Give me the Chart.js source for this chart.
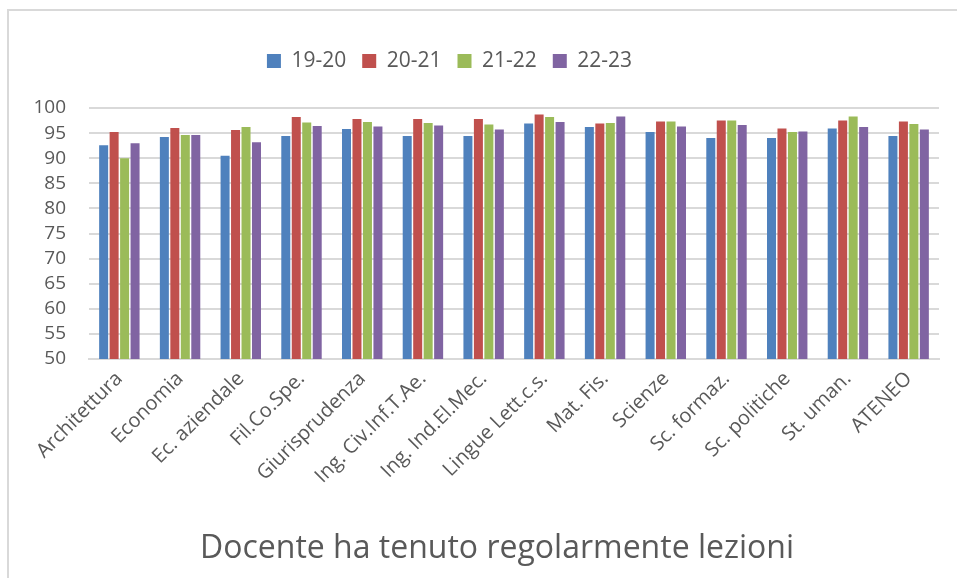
<!DOCTYPE html>
<html>
<head>
<meta charset="utf-8">
<script src="https://cdn.jsdelivr.net/npm/chart.js@4.4.0/dist/chart.umd.min.js"></script>
<style>
  html, body { margin: 0; padding: 0; background: #ffffff; }
  #wrap { position: relative; width: 957px; height: 578px; }
  canvas { display: block; }
</style>
</head>
<body>
<div id="wrap"><canvas id="c" width="957" height="578"></canvas></div>
<script>
const categories = ["Architettura", "Economia", "Ec. aziendale", "Fil.Co.Spe.", "Giurisprudenza",
  "Ing. Civ.Inf.T.Ae.", "Ing. Ind.El.Mec.", "Lingue Lett.c.s.", "Mat. Fis.", "Scienze",
  "Sc. formaz.", "Sc. politiche", "St. uman.", "ATENEO"];
const seriesNames = ["19-20", "20-21", "21-22", "22-23"];
const s1920 = [92.6, 94.2, 90.5, 94.4, 95.8, 94.4, 94.4, 96.9, 96.2, 95.2, 94.0, 94.0, 95.9, 94.4];
const s2021 = [95.2, 96.0, 95.6, 98.2, 97.8, 97.8, 97.8, 98.7, 96.9, 97.3, 97.5, 95.9, 97.5, 97.3];
const s2122 = [90.0, 94.6, 96.2, 97.1, 97.2, 97.0, 96.7, 98.2, 97.0, 97.3, 97.5, 95.2, 98.3, 96.8];
const s2223 = [93.0, 94.6, 93.2, 96.4, 96.3, 96.5, 95.7, 97.2, 98.3, 96.3, 96.6, 95.3, 96.2, 95.7];
const yTicks = [50, 55, 60, 65, 70, 75, 80, 85, 90, 95, 100];
const titleText = "Docente ha tenuto regolarmente lezioni";

const colors = ["#4F81BD", "#C0504D", "#9BBB59", "#8064A2"];
const seriesData = [s1920, s2021, s2122, s2223];
const textColor = "#595959";
const FONT = "'Open Sans', sans-serif";

const borderPlugin = {
  id: "frameBorder",
  beforeDraw(chart) {
    const ctx = chart.ctx;
    ctx.save();
    ctx.strokeStyle = "#d9d9d9";
    ctx.lineWidth = 2;
    ctx.beginPath();
    ctx.moveTo(8, 578);
    ctx.lineTo(8, 10);
    ctx.lineTo(957, 10);
    ctx.stroke();
    ctx.restore();
  }
};

// adds empty space below the legend, and recentres legend / title boxes
const layoutTweaks = {
  id: "layoutTweaks",
  beforeLayout(chart) {
    const lg = chart.legend;
    if (lg && !lg._gapPatched) {
      const orig = lg.fit;
      lg.fit = function () { orig.call(this); this.height += 26.5; };
      lg._gapPatched = true;
    }
  },
  afterLayout(chart) {
    const lg = chart.legend;
    if (lg) { lg.left = 0; lg.right = 899; lg.width = 899; }
    const tt = chart.titleBlock;
    if (tt) { tt.left = 0; tt.right = 994; tt.width = 994; }
  }
};

new Chart(document.getElementById("c"), {
  type: "bar",
  data: {
    labels: categories,
    datasets: seriesNames.map((n, i) => ({
      label: n,
      data: seriesData[i],
      backgroundColor: colors[i],
      borderWidth: 0,
      categoryPercentage: 0.69,
      barPercentage: 0.86
    }))
  },
  options: {
    responsive: false,
    animation: false,
    devicePixelRatio: 1,
    layout: { padding: { left: 0, right: 18, top: 34.5, bottom: 0 } },
    plugins: {
      legend: {
        position: "top",
        labels: {
          font: { family: FONT, size: 21 },
          color: textColor,
          boxWidth: 14,
          boxHeight: 14,
          padding: 16
        }
      },
      title: {
        display: true,
        position: "bottom",
        text: titleText,
        color: textColor,
        font: { family: FONT, size: 32, weight: "normal" },
        padding: { top: 8, bottom: 10 }
      },
      tooltip: { enabled: false }
    },
    scales: {
      x: {
        grid: { display: false, drawTicks: false },
        border: { display: true, color: "#d9d9d9", width: 2 },
        ticks: {
          autoSkip: false,
          maxRotation: 45,
          minRotation: 45,
          color: textColor,
          font: { family: FONT, size: 20 },
          padding: 8
        },
        afterFit(scale) { scale.height = 578 - 359 - (32 * 1.2 + 18); }
      },
      y: {
        min: 50,
        max: 100,
        afterBuildTicks(scale) { scale.ticks = yTicks.map(v => ({ value: v })); },
        grid: { color: "#d9d9d9", lineWidth: 2, drawTicks: false },
        border: { display: false },
        ticks: {
          autoSkip: false,
          color: textColor,
          font: { family: FONT, size: 19 },
          padding: 23
        },
        afterFit(scale) { scale.width = 89; }
      }
    }
  },
  plugins: [borderPlugin, layoutTweaks]
});
</script>
</body>
</html>
